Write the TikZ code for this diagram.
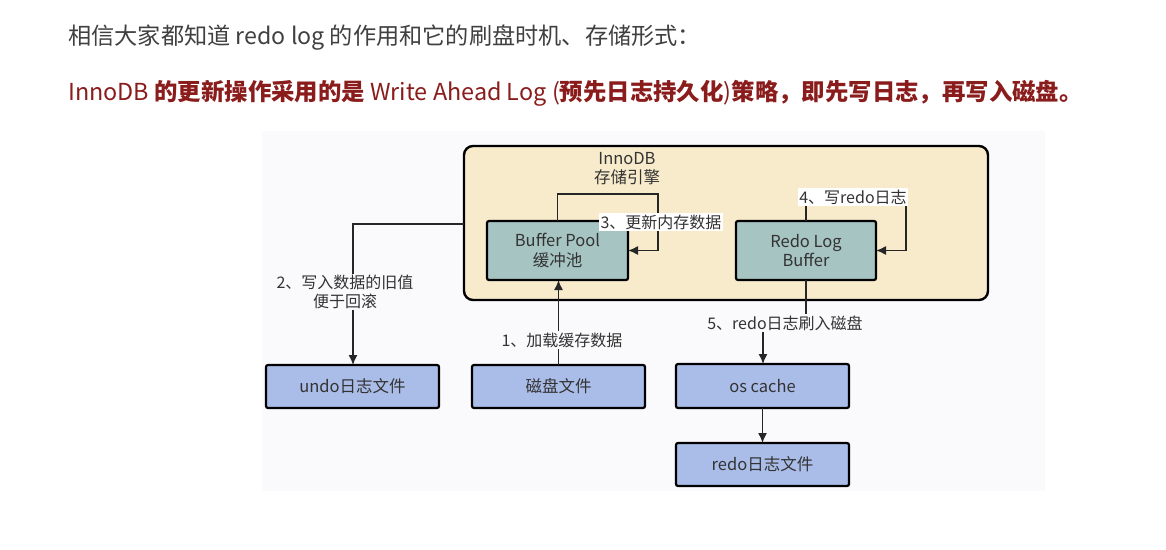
\documentclass[tikz,border=0pt]{standalone}
\usepackage{fontspec}
\setmainfont{Noto Sans CJK SC}
\newfontfamily\cjk{Noto Sans CJK SC}
\usetikzlibrary{arrows.meta}
\definecolor{bgc}{HTML}{FAFAFC}
\definecolor{beige}{HTML}{F8EBCB}
\definecolor{teal}{HTML}{A5C4C2}
\definecolor{blu}{HTML}{AABCE8}
\definecolor{txt}{HTML}{333333}
\definecolor{hdr}{HTML}{404040}
\definecolor{red}{HTML}{8B1C1C}
\tikzset{
  box/.style={draw=black, line width=2.2pt, rounded corners=2pt, inner sep=0pt, outer sep=0pt, text=txt, font=\fontsize{16.5}{19.5}\selectfont, align=center},
  membox/.style={box, fill=teal, minimum width=141pt, minimum height=59pt},
  filebox/.style={box, fill=blu, minimum width=173pt, minimum height=43pt},
  conn/.style={draw=black!85, line width=1.4pt},
  arr/.style={conn, -{Latex[length=10pt,width=9pt]}},
  lbl/.style={fill=bgc, inner sep=1.5pt, text=txt, font=\fontsize{16}{19}\selectfont, align=center},
  wlbl/.style={lbl, fill=white}
}
\begin{document}
\begin{tikzpicture}[x=1pt,y=-1pt]
\useasboundingbox (0,0) rectangle (1166,549);
\fill[white] (0,0) rectangle (1166,549);
\fill[bgc] (262,131) rectangle (1045,491);
% header
\node[anchor=west, text=hdr, font=\fontsize{23.2}{26}\selectfont, inner sep=0pt] (h1) at (68,38) {相信大家都知道 redo log 的作用和它的刷盘时机、存储形式：};
\node[anchor=west, text=red, font=\fontsize{23.4}{26}\selectfont, inner sep=0pt] (h2) at (68,93) {InnoDB {\bfseries 的更新操作采用的是} Write Ahead Log ({\bfseries 预先日志持久化})\textbf{策略，即先写日志，再写入磁盘。}};
% InnoDB box
\node[draw=black, line width=2.4pt, rounded corners=9pt, fill=beige, minimum width=524pt, minimum height=154pt, inner sep=0pt, outer sep=0pt] (inno) at (726,223) {};
\node[text=txt, font=\fontsize{16.5}{19}\selectfont, align=center, inner sep=0pt] (innot) at (627,169) {InnoDB\\存储引擎};
% boxes
\node[membox] (bp) at (557.5,250.5) {Buffer Pool\\缓冲池};
\node[membox, minimum width=140pt] (rlb) at (806,250.5) {Redo Log\\Buffer};
\node[filebox] (undo) at (352.5,386.5) {undo日志文件};
\node[filebox] (disk) at (558.5,386.5) {磁盘文件};
\node[filebox, minimum height=44pt] (osc) at (762.5,386) {os cache};
\node[filebox] (rf) at (762.5,464.5) {redo日志文件};
% coordinates
\coordinate (c2) at (353,224);
\coordinate (c3) at (658,194);
\coordinate (c4) at (906,199);
\coordinate (c5) at (763,323);
% connectors
\draw[arr] (disk.north) -- (disk.north |- bp.south);
\node[lbl] (l1) at (562,340) {1、加载缓存数据};
\draw[arr] (inno.west |- c2) -- (c2) -- (undo.north -| c2);
\node[lbl] (l2) at (345,292) {2、写入数据的旧值\\便于回滚};
\draw[arr] (bp.north) |- (c3) |- (bp.east);
\node[wlbl] (l3) at (661,222) {3、更新内存数据};
\draw[arr] (rlb.north) |- (c4) |- (rlb.east);
\node[wlbl] (l4) at (853,197) {4、写redo日志};
\draw[arr] (rlb.south) |- (c5) -- (c5 |- osc.north);
\node[lbl] (l5) at (785,323) {5、redo日志刷入磁盘};
\draw[arr] (osc.south) -- (rf.north);
\end{tikzpicture}
\end{document}
